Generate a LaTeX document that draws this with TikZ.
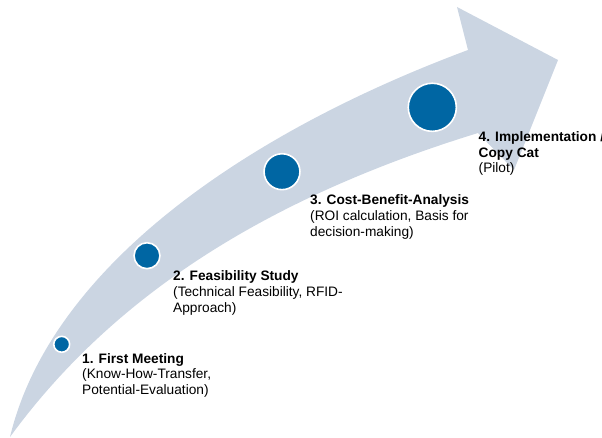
\documentclass[tikz,border=0pt]{standalone}
\usepackage{fontspec}
\setmainfont{Liberation Sans}
\definecolor{band}{RGB}{203,213,226}
\definecolor{dotblue}{RGB}{0,102,163}
\newcommand\stagetxt[2]{\parbox[t]{220pt}{\raggedright\textbf{#1}\\#2}}
\begin{document}
\begin{tikzpicture}[x=1pt,y=-1pt,
  dot/.style={circle,fill=dotblue,draw=white,line width=1.6pt,inner sep=0pt},
  lbl/.style={anchor=base west,inner sep=0pt,font=\fontsize{13.7}{15.7}\selectfont}]
\useasboundingbox (0,0) rectangle (602,438);
\clip (0,0) rectangle (602,438);
\fill[band] (10,437) .. controls (50,270) and (240,135) .. (468,50) -- (457,7) -- (558,60) -- (514,170) -- (478,133) .. controls (260,200) and (110,300) .. (10,437) -- cycle;
\node[dot,minimum size=15.9pt] (c1) at (61.7,344.3) {};
\node[dot,minimum size=25.9pt] (c2) at (147,255.7) {};
\node[dot,minimum size=35.9pt] (c3) at (282,171.7) {};
\node[dot,minimum size=48.1pt] (c4) at (432.3,107.3) {};
\node[lbl] (t1) at (82,363) {\stagetxt{1. First Meeting}{(Know-How-Transfer,\\Potential-Evaluation)}};
\node[lbl] (t2) at (173,280.7) {\stagetxt{2. Feasibility Study}{(Technical Feasibility, RFID-\\Approach)}};
\node[lbl] (t3) at (310,205) {\stagetxt{3. Cost-Benefit-Analysis}{(ROI calculation, Basis for\\decision-making)}};
\node[lbl] (t4) at (478.5,141.5) {\stagetxt{4. Implementation /\\Copy Cat}{(Pilot)}};
\end{tikzpicture}
\end{document}
